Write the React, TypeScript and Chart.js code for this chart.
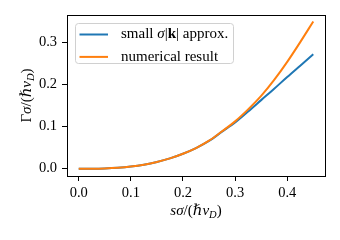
import React, { useEffect, useRef } from "react";
import { Chart, registerables } from "chart.js";

Chart.register(...registerables);

const S_VALUES = [0, 0.025, 0.05, 0.075, 0.1, 0.125, 0.15, 0.175, 0.2, 0.225, 0.25, 0.275, 0.3, 0.325, 0.35, 0.375, 0.4, 0.425, 0.45];
const APPROX_VALUES = [0, 0.0001, 0.0007, 0.0022, 0.005, 0.0095, 0.016, 0.0245, 0.0355, 0.049, 0.066, 0.088, 0.11, 0.136, 0.163, 0.19, 0.218, 0.245, 0.272];
const NUMERICAL_VALUES = [0, 0.0001, 0.0007, 0.0022, 0.005, 0.0095, 0.016, 0.0245, 0.0355, 0.049, 0.0665, 0.089, 0.1125, 0.141, 0.173, 0.211, 0.254, 0.301, 0.35];
const X_TICKS = [0, 0.1, 0.2, 0.3, 0.4];
const Y_TICKS = [0, 0.1, 0.2, 0.3];
const SERIES_LABELS = ["small σ|k| approx.", "numerical result"];

const FAMILY = "'Liberation Serif', 'DejaVu Serif', serif";
const FS = 15;
const TICK_FS = 14.5;

type Seg = { t: string; style?: string; sub?: boolean };

function segFont(s: Seg) {
  const size = s.sub ? FS * 0.7 : FS;
  return `${s.style || ""} ${size}px ${FAMILY}`.trim();
}

function richWidth(ctx: CanvasRenderingContext2D, segs: Seg[]) {
  let w = 0;
  for (const s of segs) {
    ctx.font = segFont(s);
    w += ctx.measureText(s.t).width;
  }
  return w;
}

function drawRich(ctx: CanvasRenderingContext2D, segs: Seg[], x: number, y: number) {
  ctx.textAlign = "left";
  ctx.textBaseline = "middle";
  let cx = x;
  for (const s of segs) {
    ctx.font = segFont(s);
    ctx.fillText(s.t, cx, s.sub ? y + 4 : y);
    cx += ctx.measureText(s.t).width;
  }
}

const X_TITLE: Seg[] = [
  { t: "sσ", style: "italic" },
  { t: "/(" },
  { t: "ℏv", style: "italic" },
  { t: "D", style: "italic", sub: true },
  { t: ")" },
];
const Y_TITLE: Seg[] = [
  { t: "Γ" },
  { t: "σ", style: "italic" },
  { t: "/(" },
  { t: "ℏv", style: "italic" },
  { t: "D", style: "italic", sub: true },
  { t: ")" },
];
const LEGEND_SEGS: Seg[][] = [
  [{ t: "small " }, { t: "σ", style: "italic" }, { t: "|" }, { t: "k", style: "bold" }, { t: "| approx." }],
  [{ t: SERIES_LABELS[1] }],
];
const COLORS = ["#1f77b4", "#ff7f0e"];

const decor = {
  id: "decor",
  afterDatasetsDraw(chart: any) {
    const ctx: CanvasRenderingContext2D = chart.ctx;
    const a = chart.chartArea;
    ctx.save();
    // frame
    ctx.strokeStyle = "#000";
    ctx.lineWidth = 1;
    ctx.strokeRect(Math.round(a.left) + 0.5, Math.round(a.top) + 0.5, Math.round(a.right - a.left), Math.round(a.bottom - a.top));
    // legend
    const bx = a.left + 8, by = a.top + 8, bw = 158, bh = 40;
    ctx.fillStyle = "rgba(255,255,255,0.8)";
    ctx.strokeStyle = "#d0d0d0";
    ctx.beginPath();
    (ctx as any).roundRect(bx + 0.5, by + 0.5, bw, bh, 3);
    ctx.fill();
    ctx.stroke();
    for (let i = 0; i < 2; i++) {
      const ly = by + 11.5 + i * 22.4;
      ctx.strokeStyle = COLORS[i];
      ctx.lineWidth = 2;
      ctx.beginPath();
      ctx.moveTo(bx + 4.5, ly);
      ctx.lineTo(bx + 33, ly);
      ctx.stroke();
      ctx.fillStyle = "#000";
      drawRich(ctx, LEGEND_SEGS[i], bx + 46, ly);
    }
    // x title
    ctx.fillStyle = "#000";
    const xw = richWidth(ctx, X_TITLE);
    drawRich(ctx, X_TITLE, (a.left + a.right) / 2 - xw / 2, 211);
    // y title
    const yw = richWidth(ctx, Y_TITLE);
    ctx.translate(27, (a.top + a.bottom) / 2);
    ctx.rotate(-Math.PI / 2);
    drawRich(ctx, Y_TITLE, -yw / 2, 0);
    ctx.restore();
  },
};

export default function App() {
  const ref = useRef<HTMLCanvasElement>(null);
  useEffect(() => {
    const chart = new Chart(ref.current!, {
      type: "line",
      data: {
        datasets: [
          {
            label: SERIES_LABELS[0],
            data: S_VALUES.map((x, i) => ({ x, y: APPROX_VALUES[i] })),
            borderColor: COLORS[0],
            borderWidth: 2,
            pointRadius: 0,
            cubicInterpolationMode: "monotone",
            order: 1,
          },
          {
            label: SERIES_LABELS[1],
            data: S_VALUES.map((x, i) => ({ x, y: NUMERICAL_VALUES[i] })),
            borderColor: COLORS[1],
            borderWidth: 2,
            pointRadius: 0,
            cubicInterpolationMode: "monotone",
            order: 0,
          },
        ],
      },
      options: {
        animation: false,
        responsive: false,
        layout: { padding: { left: 0, right: 15, top: 15, bottom: 0 } },
        plugins: { legend: { display: false }, tooltip: { enabled: false } },
        scales: {
          x: {
            type: "linear",
            min: -0.0225,
            max: 0.4725,
            afterBuildTicks: (s: any) => { s.ticks = X_TICKS.map((v) => ({ value: v })); },
            afterFit: (s: any) => { s.height = 64; },
            grid: { drawOnChartArea: false, drawTicks: true, tickLength: 5, color: "#000", lineWidth: 1 },
            border: { display: true, color: "#000", width: 1 },
            ticks: { color: "#000", padding: 3, font: { family: FAMILY, size: TICK_FS }, maxRotation: 0, callback: (v: any) => Number(v).toFixed(1) },
          },
          y: {
            type: "linear",
            min: -0.0174,
            max: 0.3654,
            afterBuildTicks: (s: any) => { s.ticks = Y_TICKS.map((v) => ({ value: v })); },
            afterFit: (s: any) => { s.width = 67; },
            grid: { drawOnChartArea: false, drawTicks: true, tickLength: 5, color: "#000", lineWidth: 1 },
            border: { display: true, color: "#000", width: 1 },
            ticks: { color: "#000", padding: 5, font: { family: FAMILY, size: TICK_FS }, callback: (v: any) => Number(v).toFixed(1) },
          },
        },
      },
      plugins: [decor],
    });
    return () => chart.destroy();
  }, []);
  return (
    <div style={{ position: "fixed", left: 0, top: 0, width: 340, height: 240, background: "#fff" }}>
      <canvas ref={ref} width={340} height={240} style={{ width: 340, height: 240 }} />
    </div>
  );
}
